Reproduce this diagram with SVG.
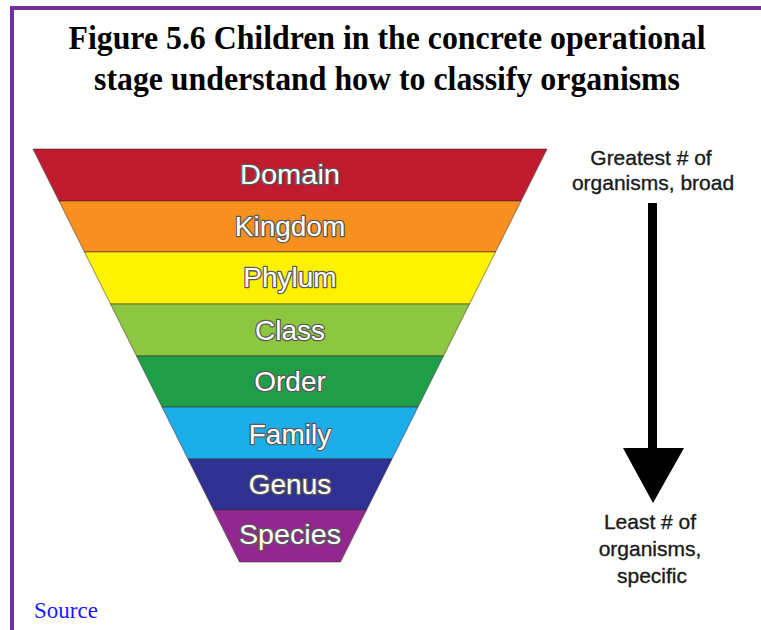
<svg xmlns="http://www.w3.org/2000/svg" width="761" height="630" viewBox="0 0 761 630">
<style>
.title{font-family:"Liberation Serif","Times New Roman",serif;font-weight:bold;font-size:33px;fill:#000;text-anchor:middle}
.band{stroke:#3a2a2a;stroke-opacity:0.55;stroke-width:1}
.lbl{font-family:"Liberation Sans",Arial,sans-serif;font-size:28px;fill:#fff;stroke:#5a5a5a;stroke-width:2.6;stroke-linejoin:round;paint-order:stroke;text-anchor:middle}
.side{font-family:"Liberation Sans",Arial,sans-serif;font-size:21px;fill:#1a1a1a;stroke:#1a1a1a;stroke-width:0.35;text-anchor:middle}
.src{font-family:"Liberation Serif","Times New Roman",serif;font-size:23px;fill:#1a1aff}
</style>
<rect x="0" y="0" width="761" height="630" fill="#fff"/>
<g id="frame">
<rect x="10" y="6" width="751" height="4" fill="#7030a0"/>
<rect x="10" y="6" width="4" height="624" fill="#7030a0"/>
</g>
<g id="title">
<text class="title" x="387" y="49" textLength="637" lengthAdjust="spacingAndGlyphs">Figure 5.6 Children in the concrete operational</text>
<text class="title" x="387" y="90" textLength="586" lengthAdjust="spacingAndGlyphs">stage understand how to classify organisms</text>
</g>
<g id="domain"><polygon class="band" fill="#c11b2f" points="33,149 547,149 521,201 59,201"/><text class="lbl" x="290" y="184" textLength="100" lengthAdjust="spacingAndGlyphs">Domain</text></g>
<g id="kingdom"><polygon class="band" fill="#f7901e" points="59,201 521,201 495.5,252 84.5,252"/><text class="lbl" x="290" y="236">Kingdom</text></g>
<g id="phylum"><polygon class="band" fill="#fff200" points="84.5,252 495.5,252 469.5,304 110.5,304"/><text class="lbl" x="290" y="287">Phylum</text></g>
<g id="class"><polygon class="band" fill="#8dc63f" points="110.5,304 469.5,304 443.5,356 136.5,356"/><text class="lbl" x="290" y="340">Class</text></g>
<g id="order"><polygon class="band" fill="#1f9e48" points="136.5,356 443.5,356 418,407 162,407"/><text class="lbl" x="290" y="391">Order</text></g>
<g id="family"><polygon class="band" fill="#1caeea" points="162,407 418,407 392,459 188,459"/><text class="lbl" x="290" y="444">Family</text></g>
<g id="genus"><polygon class="band" fill="#2e3192" points="188,459 392,459 366.5,510 213.5,510"/><text class="lbl" x="290" y="494">Genus</text></g>
<g id="species"><polygon class="band" fill="#92278f" points="213.5,510 366.5,510 340.5,562 239.5,562"/><text class="lbl" x="290" y="544" textLength="102" lengthAdjust="spacingAndGlyphs">Species</text></g>
<g id="top-label">
<text class="side" x="651" y="165">Greatest # of</text>
<text class="side" x="653" y="190">organisms, broad</text>
</g>
<g id="bottom-label">
<text class="side" x="650" y="529">Least # of</text>
<text class="side" x="650" y="556">organisms,</text>
<text class="side" x="652" y="583">specific</text>
</g>
<g id="connectors">
<rect x="648" y="203" width="9" height="247" fill="#000"/>
<polygon points="623,448 684,448 653,503" fill="#000"/>
</g>
<g id="source"><text class="src" x="34" y="618">Source</text></g>
</svg>
